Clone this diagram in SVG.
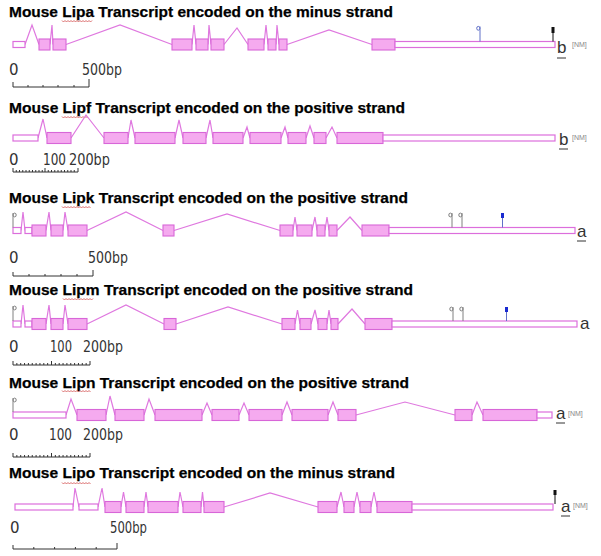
<svg xmlns="http://www.w3.org/2000/svg" width="601" height="556" viewBox="0 0 601 556">
<style>
.title{font-family:"Liberation Sans",Arial,sans-serif;font-weight:bold;font-size:15px;fill:#000;stroke:#000;stroke-width:0.25}
.sc{font-family:"DejaVu Sans","Liberation Sans",sans-serif;font-size:15px;fill:#333}
.lab{font-family:"Liberation Sans",Arial,sans-serif;font-size:17px;fill:#333}
.nm{font-family:"Liberation Sans",Arial,sans-serif;font-size:7px;fill:#888}
.cds{fill:#f5aaef;stroke:#d866d8;stroke-width:1.1}
.utr{fill:#fff;stroke:#dc6edc;stroke-width:1.2}
.intron{fill:none;stroke:#df78df;stroke-width:1.2}
.bar{fill:none;stroke:#333;stroke-width:1}
.sq{fill:none;stroke:#d04a4a;stroke-width:0.8}
.gm{fill:none;stroke:#808080;stroke-width:1}
.bm{fill:none;stroke:#6070c8;stroke-width:1}
.ul{stroke:#333;stroke-width:1}
</style>
<rect width="601" height="556" fill="#fff"/>

<!-- Lipa -->
<g id="lipa">
<text class="title" x="9" y="17" textLength="384" lengthAdjust="spacingAndGlyphs">Mouse Lipa Transcript encoded on the minus strand</text>
<path class="sq" d="M62,20.5 l1.5,1.5 l1.5,-1.5 l1.5,1.5 l1.5,-1.5 l1.5,1.5 l1.5,-1.5 l1.5,1.5 l1.5,-1.5 l1.5,1.5 l1.5,-1.5 l1.5,1.5 l1.5,-1.5 l1.5,1.5 l1.5,-1.5 l1.5,1.5 l1.5,-1.5 l1.5,1.5 l1.5,-1.5 l1.5,1.5 l1.5,-1.5"/>
<g id="lipa-connectors">
<path class="intron" d="M25,44.5 L32,25 L39,44.5 M50,44.5 L52,25 L53,44.5 M66,44.5 L120,25 L172,44.5 M192,44.5 L194,25 L196,44.5 M208,44.5 L209,25 L211,44.5 M224,44.5 L237,28 L248,44.5 M264,44.5 L266,25 L268,44.5 M276,44.5 L277,25 L279,44.5 M287,44.5 L329,30 L372,44.5"/>
</g>
<rect class="utr" x="13" y="41.5" width="12" height="6"/>
<rect class="cds" x="39" y="39" width="11" height="11"/>
<rect class="cds" x="53" y="39" width="13" height="11"/>
<rect class="cds" x="172" y="39" width="20" height="11"/>
<rect class="cds" x="196" y="39" width="12" height="11"/>
<rect class="cds" x="211" y="39" width="13" height="11"/>
<rect class="cds" x="248" y="39" width="16" height="11"/>
<rect class="cds" x="268" y="39" width="8" height="11"/>
<rect class="cds" x="279" y="39" width="8" height="11"/>
<rect class="cds" x="372" y="39" width="23" height="11"/>
<rect class="utr" x="395" y="41.5" width="160" height="6"/>
<path class="bm" d="M480,26.5 V41.5"/>
<ellipse class="bm" cx="478.3" cy="28.3" rx="1.6" ry="1.9"/>
<rect x="551.5" y="27" width="3" height="6" fill="#111"/>
<path d="M553,33 V41.5" stroke="#111" stroke-width="1"/>
<text class="lab" x="557" y="53">b</text>
<path class="ul" d="M557,58 H566"/>
<text class="nm" x="572" y="47">[NM]</text>
<text class="sc" x="9" y="75">0</text>
<text class="sc" x="82" y="75" textLength="40" lengthAdjust="spacingAndGlyphs">500bp</text>
<path class="bar" d="M13,82 V87 H89 V79 M28,85 V87 M43,85 V87 M58,85 V87 M74,85 V87"/>
</g>

<!-- Lipf -->
<g id="lipf">
<text class="title" x="9" y="113" textLength="396" lengthAdjust="spacingAndGlyphs">Mouse Lipf Transcript encoded on the positive strand</text>
<path class="sq" d="M62,116.5 l1.5,1.5 l1.5,-1.5 l1.5,1.5 l1.5,-1.5 l1.5,1.5 l1.5,-1.5 l1.5,1.5 l1.5,-1.5 l1.5,1.5 l1.5,-1.5 l1.5,1.5 l1.5,-1.5 l1.5,1.5 l1.5,-1.5 l1.5,1.5 l1.5,-1.5 l1.5,1.5"/>
<g id="lipf-connectors">
<path class="intron" d="M38,138 L43,119 L47,138 M71,138 L86,115 L104,138 M128,138 L131,120 L135,138 M175,138 L179,120 L183,138 M206,138 L210,120 L213,138 M243,138 L247,127 L250,138 M281,138 L285,127 L288,138 M306,138 L310,126 L314,138 M326,138 L332,127 L337,138"/>
</g>
<rect class="utr" x="13" y="135" width="25" height="6"/>
<rect class="cds" x="47" y="132.5" width="24" height="11"/>
<rect class="cds" x="104" y="132.5" width="24" height="11"/>
<rect class="cds" x="135" y="132.5" width="40" height="11"/>
<rect class="cds" x="183" y="132.5" width="23" height="11"/>
<rect class="cds" x="213" y="132.5" width="30" height="11"/>
<rect class="cds" x="250" y="132.5" width="31" height="11"/>
<rect class="cds" x="288" y="132.5" width="18" height="11"/>
<rect class="cds" x="314" y="132.5" width="12" height="11"/>
<rect class="cds" x="337" y="132.5" width="46" height="11"/>
<rect class="utr" x="383" y="135" width="172" height="6"/>
<text class="lab" x="559" y="145">b</text>
<path class="ul" d="M559,149 H568"/>
<text class="nm" x="572" y="140">[NM]</text>
<text class="sc" x="9" y="165">0</text>
<text class="sc" x="43" y="165" textLength="23" lengthAdjust="spacingAndGlyphs">100</text>
<text class="sc" x="69" y="165" textLength="41" lengthAdjust="spacingAndGlyphs">200bp</text>
<path class="bar" d="M13,168 V172 H78 V168 M45,168 V172 M16.25,170 V172 M19.5,170 V172 M22.75,170 V172 M26,170 V172 M29.25,170 V172 M32.5,170 V172 M35.75,170 V172 M39,170 V172 M42.25,170 V172 M48.25,170 V172 M51.5,170 V172 M54.75,170 V172 M58,170 V172 M61.25,170 V172 M64.5,170 V172 M67.75,170 V172 M71,170 V172 M74.25,170 V172"/>
</g>

<!-- Lipk -->
<g id="lipk">
<text class="title" x="9" y="203" textLength="399" lengthAdjust="spacingAndGlyphs">Mouse Lipk Transcript encoded on the positive strand</text>
<path class="sq" d="M62,206.5 l1.5,1.5 l1.5,-1.5 l1.5,1.5 l1.5,-1.5 l1.5,1.5 l1.5,-1.5 l1.5,1.5 l1.5,-1.5 l1.5,1.5 l1.5,-1.5 l1.5,1.5 l1.5,-1.5 l1.5,1.5 l1.5,-1.5 l1.5,1.5 l1.5,-1.5 l1.5,1.5 l1.5,-1.5 l1.5,1.5"/>
<g id="lipk-connectors">
<path class="intron" d="M21,230.5 L23,212 L25,230.5 M46,230.5 L49,212 L51,230.5 M63,230.5 L65,212 L68,230.5 M87,230.5 L126,212 L163,230.5 M174,230.5 L227,214 L280,230.5 M293,230.5 L295,217 L297,230.5 M312,230.5 L315,217 L317,230.5 M325,230.5 L327,217 L329,230.5 M337,230.5 L350,217 L362,230.5"/>
</g>
<rect class="utr" x="13" y="227.5" width="8" height="6"/>
<rect class="utr" x="25" y="227.5" width="7" height="6"/>
<rect class="cds" x="32" y="225" width="14" height="11"/>
<rect class="cds" x="51" y="225" width="12" height="11"/>
<rect class="cds" x="68" y="225" width="19" height="11"/>
<rect class="cds" x="163" y="225" width="11" height="11"/>
<rect class="cds" x="280" y="225" width="13" height="11"/>
<rect class="cds" x="297" y="225" width="15" height="11"/>
<rect class="cds" x="317" y="225" width="8" height="11"/>
<rect class="cds" x="329" y="225" width="8" height="11"/>
<rect class="cds" x="362" y="225" width="27" height="11"/>
<rect class="utr" x="389" y="227.5" width="186" height="6"/>
<path class="gm" d="M13,213 V227.5"/>
<ellipse class="gm" cx="14.6" cy="215" rx="1.6" ry="1.9"/>
<path class="gm" d="M452,213 V227.5 M462,213 V227.5"/>
<ellipse class="gm" cx="450.4" cy="215" rx="1.6" ry="1.9"/>
<ellipse class="gm" cx="460.4" cy="215" rx="1.6" ry="1.9"/>
<rect x="501" y="213" width="3" height="5" fill="#1a2ad0"/>
<path d="M502.5,218 V227.5" stroke="#6070c8" stroke-width="1"/>
<text class="lab" x="577" y="237">a</text>
<path class="ul" d="M577,241 H586"/>
<text class="sc" x="9" y="263">0</text>
<text class="sc" x="88" y="263" textLength="40" lengthAdjust="spacingAndGlyphs">500bp</text>
<path class="bar" d="M13,272 V276 H93 V270 M29,274 V276 M45,274 V276 M61,274 V276 M77,274 V276"/>
</g>

<!-- Lipm -->
<g id="lipm">
<text class="title" x="9" y="295" textLength="404" lengthAdjust="spacingAndGlyphs">Mouse Lipm  Transcript encoded on the positive strand</text>
<path class="sq" d="M63,298.5 l1.5,1.5 l1.5,-1.5 l1.5,1.5 l1.5,-1.5 l1.5,1.5 l1.5,-1.5 l1.5,1.5 l1.5,-1.5 l1.5,1.5 l1.5,-1.5 l1.5,1.5 l1.5,-1.5 l1.5,1.5 l1.5,-1.5 l1.5,1.5 l1.5,-1.5 l1.5,1.5 l1.5,-1.5 l1.5,1.5 l1.5,-1.5"/>
<g id="lipm-connectors">
<path class="intron" d="M21,324 L23,305 L25,324 M46,324 L49,305 L51,324 M63,324 L65,305 L68,324 M87,324 L126,305 L164,324 M176,324 L228,307 L282,324 M295,324 L297.5,310 L300,324 M311,324 L315,310 L318,324 M327,324 L329,310 L331,324 M338,324 L352,309 L365,324"/>
</g>
<rect class="utr" x="13" y="321" width="8" height="6"/>
<rect class="utr" x="25" y="321" width="7" height="6"/>
<rect class="cds" x="32" y="318.5" width="14" height="11"/>
<rect class="cds" x="51" y="318.5" width="12" height="11"/>
<rect class="cds" x="68" y="318.5" width="19" height="11"/>
<rect class="cds" x="164" y="318.5" width="12" height="11"/>
<rect class="cds" x="282" y="318.5" width="13" height="11"/>
<rect class="cds" x="300" y="318.5" width="11" height="11"/>
<rect class="cds" x="318" y="318.5" width="9" height="11"/>
<rect class="cds" x="331" y="318.5" width="7" height="11"/>
<rect class="cds" x="365" y="318.5" width="27" height="11"/>
<rect class="utr" x="392" y="321" width="185" height="6"/>
<path class="gm" d="M13,306 V321"/>
<ellipse class="gm" cx="14.6" cy="308" rx="1.6" ry="1.9"/>
<path class="gm" d="M453,307 V321 M463,307 V321"/>
<ellipse class="gm" cx="451.4" cy="309" rx="1.6" ry="1.9"/>
<ellipse class="gm" cx="461.4" cy="309" rx="1.6" ry="1.9"/>
<rect x="505" y="307" width="3" height="5" fill="#1a2ad0"/>
<path d="M506.5,312 V321" stroke="#6070c8" stroke-width="1"/>
<text class="lab" x="580" y="329">a</text>
<text class="sc" x="9" y="352">0</text>
<text class="sc" x="50" y="352" textLength="22" lengthAdjust="spacingAndGlyphs">100</text>
<text class="sc" x="83" y="352" textLength="40" lengthAdjust="spacingAndGlyphs">200bp</text>
<path class="bar" d="M13,361 V365 H90 V361 M51.5,361 V365 M16.85,363 V365 M20.7,363 V365 M24.55,363 V365 M28.4,363 V365 M32.25,363 V365 M36.1,363 V365 M39.95,363 V365 M43.8,363 V365 M47.65,363 V365 M55.35,363 V365 M59.2,363 V365 M63.05,363 V365 M66.9,363 V365 M70.75,363 V365 M74.6,363 V365 M78.45,363 V365 M82.3,363 V365 M86.15,363 V365"/>
</g>

<!-- Lipn -->
<g id="lipn">
<text class="title" x="9" y="388" textLength="400" lengthAdjust="spacingAndGlyphs">Mouse Lipn Transcript encoded on the positive strand</text>
<path class="sq" d="M62,390.5 l1.5,1.5 l1.5,-1.5 l1.5,1.5 l1.5,-1.5 l1.5,1.5 l1.5,-1.5 l1.5,1.5 l1.5,-1.5 l1.5,1.5 l1.5,-1.5 l1.5,1.5 l1.5,-1.5 l1.5,1.5 l1.5,-1.5 l1.5,1.5 l1.5,-1.5 l1.5,1.5 l1.5,-1.5 l1.5,1.5"/>
<g id="lipn-connectors">
<path class="intron" d="M66,415 L71,399 L77,415 M106,415 L110,396 L115,415 M144,415 L149,399 L155,415 M202,415 L207,403 L212,415 M239,415 L244,403 L249,415 M282,415 L287,402 L292,415 M328,415 L333,402 L338,415 M356,415 L405,402 L455,415 M472,415 L477,402 L483,415"/>
</g>
<rect class="utr" x="13" y="412" width="53" height="6"/>
<rect class="cds" x="77" y="409.5" width="29" height="11"/>
<rect class="cds" x="115" y="409.5" width="29" height="11"/>
<rect class="cds" x="155" y="409.5" width="47" height="11"/>
<rect class="cds" x="212" y="409.5" width="27" height="11"/>
<rect class="cds" x="249" y="409.5" width="33" height="11"/>
<rect class="cds" x="292" y="409.5" width="36" height="11"/>
<rect class="cds" x="338" y="409.5" width="18" height="11"/>
<rect class="cds" x="455" y="409.5" width="17" height="11"/>
<rect class="cds" x="483" y="409.5" width="54" height="11"/>
<rect class="utr" x="537" y="412" width="15" height="6"/>
<path class="gm" d="M13,398 V412"/>
<ellipse class="gm" cx="14.6" cy="400" rx="1.6" ry="1.9"/>
<text class="lab" x="556" y="419">a</text>
<path class="ul" d="M556,423 H565"/>
<text class="nm" x="568" y="416">[NM]</text>
<text class="sc" x="9" y="440">0</text>
<text class="sc" x="49" y="440" textLength="23" lengthAdjust="spacingAndGlyphs">100</text>
<text class="sc" x="83" y="440" textLength="40" lengthAdjust="spacingAndGlyphs">200bp</text>
<path class="bar" d="M13,453 V457 H90 V453 M51.5,453 V457 M16.85,455 V457 M20.7,455 V457 M24.55,455 V457 M28.4,455 V457 M32.25,455 V457 M36.1,455 V457 M39.95,455 V457 M43.8,455 V457 M47.65,455 V457 M55.35,455 V457 M59.2,455 V457 M63.05,455 V457 M66.9,455 V457 M70.75,455 V457 M74.6,455 V457 M78.45,455 V457 M82.3,455 V457 M86.15,455 V457"/>
</g>

<!-- Lipo -->
<g id="lipo">
<text class="title" x="9" y="478" textLength="386" lengthAdjust="spacingAndGlyphs">Mouse Lipo Transcript encoded on the minus strand</text>
<path class="sq" d="M62,482.5 l1.5,1.5 l1.5,-1.5 l1.5,1.5 l1.5,-1.5 l1.5,1.5 l1.5,-1.5 l1.5,1.5 l1.5,-1.5 l1.5,1.5 l1.5,-1.5 l1.5,1.5 l1.5,-1.5 l1.5,1.5 l1.5,-1.5 l1.5,1.5 l1.5,-1.5 l1.5,1.5 l1.5,-1.5 l1.5,1.5"/>
<g id="lipo-connectors">
<path class="intron" d="M73,507 L75,488 L79,507 M98,507 L102,488 L105,507 M121,507 L123.5,492 L126,507 M144,507 L146,492 L148,507 M178,507 L180,492 L183,507 M201,507 L202.5,492 L204,507 M224,507 L270,493 L318,507 M337,507 L341,492 L344,507 M354,507 L357,492 L360,507 M371,507 L374,492 L377,507"/>
</g>
<rect class="utr" x="15" y="504" width="58" height="6"/>
<rect class="utr" x="79" y="504" width="19" height="6"/>
<rect class="cds" x="105" y="501.5" width="16" height="11"/>
<rect class="cds" x="126" y="501.5" width="18" height="11"/>
<rect class="cds" x="148" y="501.5" width="30" height="11"/>
<rect class="cds" x="183" y="501.5" width="18" height="11"/>
<rect class="cds" x="204" y="501.5" width="20" height="11"/>
<rect class="cds" x="318" y="501.5" width="19" height="11"/>
<rect class="cds" x="344" y="501.5" width="10" height="11"/>
<rect class="cds" x="360" y="501.5" width="11" height="11"/>
<rect class="cds" x="377" y="501.5" width="35" height="11"/>
<rect class="utr" x="412" y="504" width="141" height="6"/>
<rect x="553.5" y="490" width="3" height="5" fill="#111"/>
<path d="M555,495 V504" stroke="#111" stroke-width="1"/>
<text class="lab" x="561" y="512">a</text>
<path class="ul" d="M561,516 H570"/>
<text class="nm" x="573" y="508">[NM]</text>
<text class="sc" x="10" y="533">0</text>
<text class="sc" x="110" y="533" textLength="37" lengthAdjust="spacingAndGlyphs">500bp</text>
<path class="bar" d="M13,545 V549 H117 V543 M33.8,547 V549 M54.6,547 V549 M75.4,547 V549 M96.2,547 V549"/>
</g>
</svg>
